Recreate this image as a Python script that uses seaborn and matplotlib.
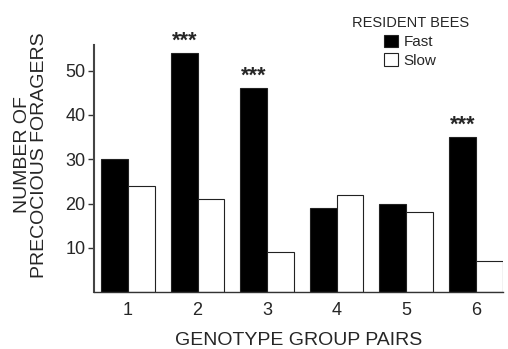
import matplotlib
matplotlib.use("Agg")
import matplotlib.pyplot as plt
import seaborn as sns
import pandas as pd
from matplotlib.patches import Patch

pairs = ["1", "2", "3", "4", "5", "6"]
fast = [30, 54, 46, 19, 20, 35]
slow = [24, 21, 9, 22, 18, 7]
signif = ["", "***", "***", "", "", "***"]
yticks = [10, 20, 30, 40, 50]

df = pd.DataFrame({
    "pair": pairs * 2,
    "value": fast + slow,
    "bees": ["Fast"] * len(pairs) + ["Slow"] * len(pairs),
})

sns.set_theme(style="ticks")
plt.rcParams["font.family"] = ["Liberation Sans", "DejaVu Sans"]

fig = plt.figure(figsize=(5.08, 3.49), dpi=100)
ax = fig.add_axes([0.185, 0.163, 0.805, 0.708])

sns.barplot(data=df, x="pair", y="value", hue="bees", order=pairs,
            hue_order=["Fast", "Slow"], palette={"Fast": "black", "Slow": "white"},
            width=0.77, edgecolor="#222222", linewidth=0.8, ax=ax, legend=False)

ax.set_xlim(-0.49, 5.39)
ax.set_ylim(0, 55.8)
ax.set_yticks(yticks)
ax.tick_params(axis="y", labelsize=13, length=4, width=1.0, pad=2, color="#333333")
ax.tick_params(axis="x", labelsize=13, length=0, pad=7)
for s in ["top", "right"]:
    ax.spines[s].set_visible(False)
ax.spines["left"].set_linewidth(1.5)
ax.spines["left"].set_color("#444444")
ax.spines["bottom"].set_linewidth(1.0)
ax.spines["bottom"].set_color("#333333")

ax.set_xlabel("GENOTYPE GROUP PAIRS", fontsize=14, labelpad=9.5)
ax.set_ylabel("NUMBER OF\nPRECOCIOUS FORAGERS", fontsize=14, linespacing=0.95)
ax.yaxis.set_label_coords(-0.113, 0.555)

# significance marks over fast bars
bars = ax.patches[:len(pairs)]
for b, s in zip(bars, signif):
    if s:
        ax.text(b.get_x() + b.get_width() / 2, b.get_height() + 0.3, s,
                ha="center", va="bottom", fontsize=15.5, fontweight="bold")

handles = [Patch(facecolor="black", edgecolor="#222222", linewidth=0.8, label="Fast"),
           Patch(facecolor="white", edgecolor="#222222", linewidth=0.8, label="Slow")]
leg = fig.legend(handles=handles, title="RESIDENT BEES", loc="upper left",
                 bbox_to_anchor=(0.671, 0.985), frameon=False, fontsize=11,
                 title_fontsize=10.5, handlelength=0.95, handleheight=0.85,
                 handletextpad=0.35, labelspacing=0.3, borderpad=0.2)
leg._legend_box.align = "center"

fig.savefig("out.png", dpi=100)
